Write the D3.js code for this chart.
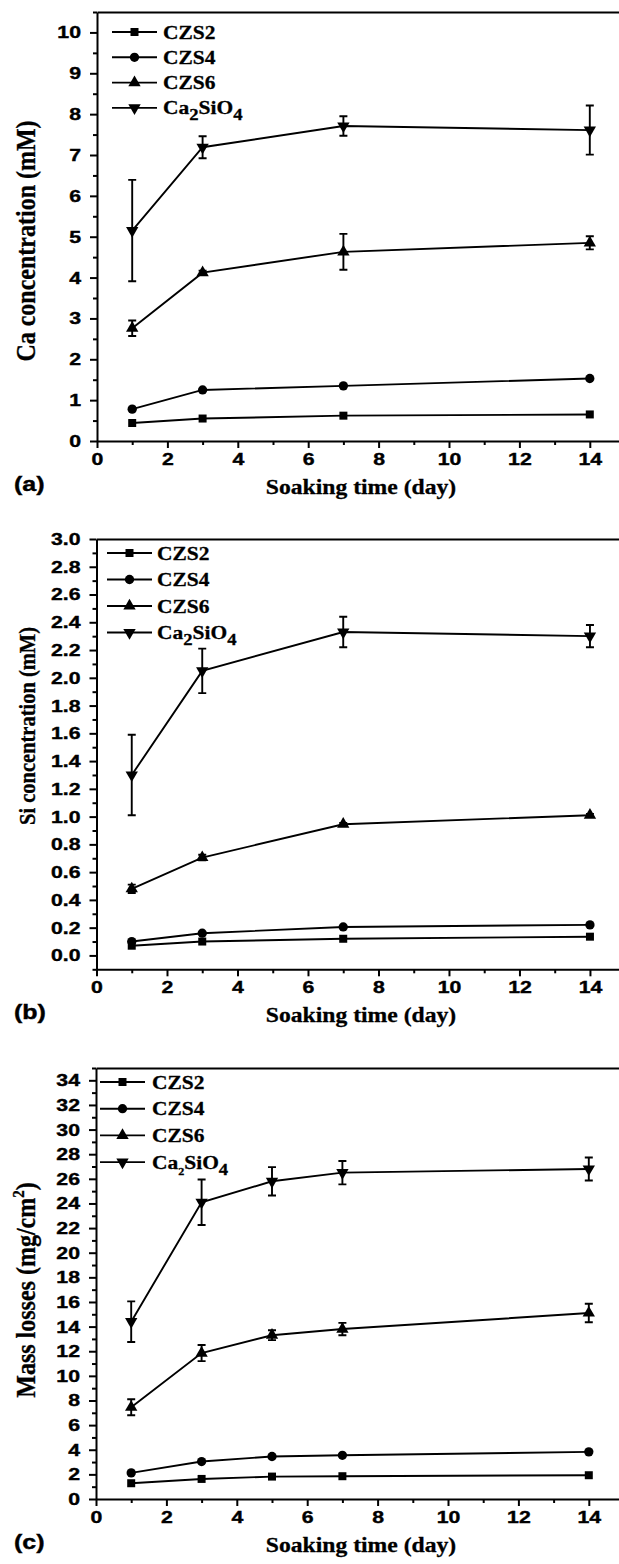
<!DOCTYPE html>
<html>
<head>
<meta charset="utf-8">
<script src="https://cdn.jsdelivr.net/npm/d3@7"></script>
<style>
  html, body { margin: 0; padding: 0; background: #fff; }
  svg { display: block; }
</style>
</head>
<body>
<div id="chart"></div>
<script>
// --- data ---
const seriesNames = ['CZS2', 'CZS4', 'CZS6', 'Ca2SiO4'];
const daysAB = [1, 3, 7, 14];
const daysC = [1, 3, 5, 7, 14];
const xTicks = [0, 2, 4, 6, 8, 10, 12, 14];

// (a) Ca concentration (mM)
const caCZS2 = [0.44, 0.55, 0.62, 0.65];
const caCZS4 = [0.78, 1.25, 1.35, 1.53];
const caCZS6 = [2.76, 4.12, 4.63, 4.85];
const caCa2SiO4 = [5.15, 7.19, 7.71, 7.61];
const caErrCZS6 = [0.19, 0.05, 0.44, 0.16];
const caErrCa2SiO4 = [1.24, 0.27, 0.24, 0.60];
const caTicks = [0, 1, 2, 3, 4, 5, 6, 7, 8, 9, 10];

// (b) Si concentration (mM)
const siCZS2 = [0.07, 0.10, 0.12, 0.135];
const siCZS4 = [0.10, 0.16, 0.205, 0.22];
const siCZS6 = [0.48, 0.705, 0.945, 1.01];
const siCa2SiO4 = [1.30, 2.05, 2.33, 2.30];
const siErrCZS6 = [0.03, 0.02, 0.01, 0.01];
const siErrCa2SiO4 = [0.29, 0.16, 0.11, 0.08];
const siTicks = [0, 0.2, 0.4, 0.6, 0.8, 1.0, 1.2, 1.4, 1.6, 1.8, 2.0, 2.2, 2.4, 2.6, 2.8, 3.0];

// (c) Mass losses (mg/cm2)
const mlCZS2 = [1.28, 1.63, 1.82, 1.85, 1.93];
const mlCZS4 = [2.12, 3.04, 3.45, 3.55, 3.83];
const mlCZS6 = [7.45, 11.85, 13.3, 13.8, 15.1];
const mlCa2SiO4 = [14.4, 24.1, 25.8, 26.5, 26.8];
const mlErrCZS6 = [0.65, 0.65, 0.40, 0.50, 0.75];
const mlErrCa2SiO4 = [1.65, 1.85, 1.15, 0.95, 0.93];
const mlTicks = [0, 2, 4, 6, 8, 10, 12, 14, 16, 18, 20, 22, 24, 26, 28, 30, 32, 34];

const W = 619, H = 1564;
const SANS = '"Liberation Sans", Arial, Helvetica, sans-serif';
const SERIF = '"Liberation Serif", "Times New Roman", Times, serif';
const sansStretch = 1.25;
const serifStretch = 1.1;

const svg = d3.select('#chart').append('svg')
    .attr('width', W)
    .attr('height', H);

const panels = [
    {
        label: '(a)', yTitle: 'Ca concentration (mM)', yTitleSize: 24, yTitleY: 241,
        xRange: [97, 625], yRange: [441, 12], yDomain: [0, 10.5],
        yTicks: caTicks, yMinorStep: 0.5, yFormat: d3.format('d'),
        days: daysAB,
        values: [caCZS2, caCZS4, caCZS6, caCa2SiO4],
        errors: [null, null, caErrCZS6, caErrCa2SiO4],
        legend: {x1: 112, x2: 157, tx: 163, y0: 32, dy: 25.3, subSmall: false}
    },
    {
        label: '(b)', yTitle: 'Si concentration (mM)', yTitleSize: 20.5, yTitleY: 726,
        xRange: [96.5, 625.2], yRange: [969.3, 539], yDomain: [-0.1, 3.0],
        yTicks: siTicks, yMinorStep: 0.1, yFormat: d3.format('.1f'),
        days: daysAB,
        values: [siCZS2, siCZS4, siCZS6, siCa2SiO4],
        errors: [null, null, siErrCZS6, siErrCa2SiO4],
        legend: {x1: 107, x2: 152, tx: 157, y0: 553, dy: 26.5, subSmall: false}
    },
    {
        label: '(c)', yTitle: 'Mass losses (mg/cm', yTitleSup: '2', yTitleSize: 24, yTitleY: 1290,
        xRange: [96, 624], yRange: [1499, 1068], yDomain: [0, 35],
        yTicks: mlTicks, yMinorStep: 1, yFormat: d3.format('d'),
        days: daysC,
        values: [mlCZS2, mlCZS4, mlCZS6, mlCa2SiO4],
        errors: [null, null, mlErrCZS6, mlErrCa2SiO4],
        legend: {x1: 100, x2: 145, tx: 152, y0: 1082, dy: 26.7, subSmall: true}
    }
];

const symbols = [
    {type: d3.symbolSquare, size: 64, rotate: 0},
    {type: d3.symbolCircle, size: 68, rotate: 0},
    {type: d3.symbolTriangle, size: 66, rotate: 0},
    {type: d3.symbolTriangle, size: 66, rotate: 180}
];

panels.forEach(p => drawPanel(p));

function drawPanel(p){
    const x = d3.scaleLinear().domain([0, 15]).range(p.xRange);
    const y = d3.scaleLinear().domain(p.yDomain).range(p.yRange);
    const g = svg.append('g');

    // minor ticks
    const yMinor = d3.range(Math.ceil(p.yDomain[0] / p.yMinorStep) * p.yMinorStep, p.yDomain[1] + 1e-9, p.yMinorStep)
        .filter(v => !p.yTicks.some(t => Math.abs(t - v) < 1e-6));
    const xMinor = [1, 3, 5, 7, 9, 11, 13, 15];

    g.append('g')
        .attr('transform', `translate(${p.xRange[0]},0)`)
        .call(d3.axisLeft(y).tickValues(yMinor).tickSize(4).tickSizeOuter(0).tickFormat(''))
        .call(s => s.select('.domain').remove());
    g.append('g')
        .attr('transform', `translate(0,${p.yRange[0]})`)
        .call(d3.axisBottom(x).tickValues(xMinor).tickSize(4).tickSizeOuter(0).tickFormat(''))
        .call(s => s.select('.domain').remove());

    // major axes
    const yAxis = g.append('g')
        .attr('transform', `translate(${p.xRange[0]},0)`)
        .call(d3.axisLeft(y).tickValues(p.yTicks).tickSize(7).tickSizeOuter(0).tickFormat(p.yFormat));
    yAxis.selectAll('text')
        .attr('x', -16 / sansStretch)
        .attr('transform', `scale(${sansStretch},1)`);

    const xAxis = g.append('g')
        .attr('transform', `translate(0,${p.yRange[0]})`)
        .call(d3.axisBottom(x).tickValues(xTicks).tickSize(7).tickSizeOuter(0).tickFormat(d3.format('d')));
    xAxis.selectAll('text')
        .attr('y', 12)
        .attr('transform', `scale(${sansStretch},1)`);

    // top frame line
    g.append('g')
        .attr('transform', `translate(0,${p.yRange[1]})`)
        .call(d3.axisTop(x).tickValues([]).tickSizeOuter(0));

    g.selectAll('.domain, .tick line')
        .attr('stroke', '#000')
        .attr('stroke-width', 2);
    g.selectAll('.tick text')
        .attr('fill', '#000')
        .attr('stroke', '#000')
        .attr('stroke-width', 0.4)
        .style('font-family', SANS)
        .style('font-weight', 'bold')
        .style('font-size', '17px');

    // series
    const line = d3.line()
        .x((d, i) => x(p.days[i]))
        .y(d => y(d));

    p.values.forEach((vals, si) => {
        g.append('path')
            .datum(vals)
            .attr('fill', 'none')
            .attr('stroke', '#000')
            .attr('stroke-width', 1.9)
            .attr('d', line);

        const errs = p.errors[si];
        if(errs){
            vals.forEach((v, i) => {
                const cx = x(p.days[i]);
                const top = y(v + errs[i]), bot = y(v - errs[i]);
                g.append('path')
                    .attr('fill', 'none')
                    .attr('stroke', '#000')
                    .attr('stroke-width', 1.9)
                    .attr('d', `M${cx},${top}V${bot}M${cx - 4},${top}H${cx + 4}M${cx - 4},${bot}H${cx + 4}`);
            });
        }

        const sym = symbols[si];
        g.selectAll(null)
            .data(vals)
            .enter()
            .append('path')
            .attr('d', d3.symbol().type(sym.type).size(sym.size))
            .attr('transform', (d, i) => `translate(${x(p.days[i])},${y(d)}) rotate(${sym.rotate})`)
            .attr('fill', '#000');
    });

    // legend
    const lg = p.legend;
    seriesNames.forEach((name, si) => {
        const ly = lg.y0 + si * lg.dy;
        g.append('line')
            .attr('x1', lg.x1).attr('x2', lg.x2)
            .attr('y1', ly).attr('y2', ly)
            .attr('stroke', '#000')
            .attr('stroke-width', 1.9);
        const sym = symbols[si];
        g.append('path')
            .attr('d', d3.symbol().type(sym.type).size(sym.size))
            .attr('transform', `translate(${(lg.x1 + lg.x2) / 2},${ly}) rotate(${sym.rotate})`)
            .attr('fill', '#000');

        const t = g.append('text')
            .attr('transform', `translate(${lg.tx},${ly + 6.5}) scale(${serifStretch},1)`)
            .attr('stroke', '#000')
            .attr('stroke-width', 0.3)
            .style('font-family', SERIF)
            .style('font-weight', 'bold')
            .style('font-size', '19.5px')
            .attr('fill', '#000');
        if(name === 'Ca2SiO4'){
            const subSize = lg.subSmall ? '11px' : '17px';
            t.append('tspan').text('Ca');
            t.append('tspan').text('2').attr('dy', 6).style('font-size', subSize);
            t.append('tspan').text('SiO').attr('dy', -6);
            t.append('tspan').text('4').attr('dy', 6).style('font-size', '17px');
        }else{
            t.text(name);
        }
    });

    // axis titles
    const bottom = p.yRange[0];
    g.append('text')
        .attr('transform', `translate(361,${bottom + 53}) scale(${serifStretch},1)`)
        .attr('text-anchor', 'middle')
        .attr('stroke', '#000')
        .attr('stroke-width', 0.3)
        .style('font-family', SERIF)
        .style('font-weight', 'bold')
        .style('font-size', '21.5px')
        .text('Soaking time (day)');

    const yt = g.append('text')
        .attr('transform', `translate(35,${p.yTitleY}) scale(${serifStretch},1) rotate(-90)`)
        .attr('text-anchor', 'middle')
        .attr('stroke', '#000')
        .attr('stroke-width', 0.3)
        .style('font-family', SERIF)
        .style('font-weight', 'bold')
        .style('font-size', p.yTitleSize + 'px');
    yt.append('tspan').text(p.yTitle);
    if(p.yTitleSup){
        yt.append('tspan').text(p.yTitleSup).attr('dy', -10).style('font-size', '15px');
        yt.append('tspan').text(')').attr('dy', 10);
    }

    // panel label
    g.append('text')
        .attr('transform', `translate(14,${bottom + 50}) scale(${sansStretch},1)`)
        .attr('stroke', '#000')
        .attr('stroke-width', 0.4)
        .style('font-family', SANS)
        .style('font-weight', 'bold')
        .style('font-size', '20px')
        .text(p.label);
}
</script>
</body>
</html>
